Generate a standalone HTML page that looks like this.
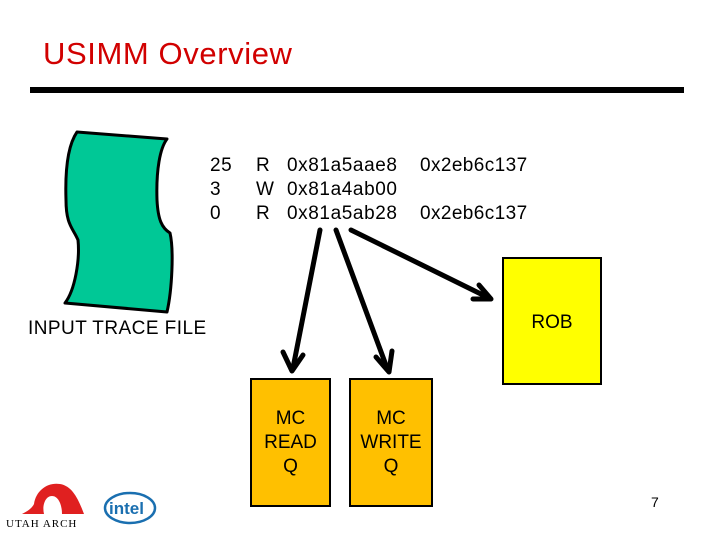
<!DOCTYPE html>
<html><head><meta charset="utf-8"><style>
body{margin:0;width:720px;height:540px;background:#fff;position:relative;overflow:hidden;font-family:"Liberation Sans",Arial,sans-serif}
.t{position:absolute;white-space:nowrap;color:#000}
.box{position:absolute;border:2px solid #000;box-sizing:border-box;display:flex;align-items:center;justify-content:center;text-align:center;font-size:19px;line-height:24px}
</style></head><body>
<div class="t" style="left:43px;top:36px;font-size:31px;letter-spacing:0.6px;color:#d10000">USIMM Overview</div>
<div style="position:absolute;left:30px;top:87px;width:654px;height:6px;background:#000"></div>
<svg width="720" height="540" style="position:absolute;left:0;top:0">
<path d="M77,132 L167,139 C160,148 156,170 157,200 C158,220 162,228 170,233 C174,250 172,290 167,312 L65,303 C75,290 80,260 78,240 C73,228 66,225 66,200 C65,170 68,145 77,132 Z" fill="#00c896" stroke="#000" stroke-width="3" stroke-linejoin="round"/>
<g stroke="#000" stroke-width="5" fill="none" stroke-linecap="round" stroke-linejoin="round">
<line x1="320" y1="230" x2="293" y2="368"/>
<polyline points="283,352 292,371 303,355"/>
<line x1="336" y1="230" x2="387" y2="368"/>
<polyline points="376,357 389,372 392,351"/>
<line x1="351" y1="230" x2="489" y2="298"/>
<polyline points="479,285 491,299 473,299"/>
</g>
</svg>
<div class="t" style="left:210px;top:154px;font-size:19px;line-height:24px;letter-spacing:0.5px">25<br>3<br>0</div>
<div class="t" style="left:256px;top:154px;font-size:19px;line-height:24px">R<br>W<br>R</div>
<div class="t" style="left:287px;top:154px;font-size:19px;line-height:24px;letter-spacing:0.6px">0x81a5aae8<br>0x81a4ab00<br>0x81a5ab28</div>
<div class="t" style="left:420px;top:154px;font-size:19px;line-height:24px;letter-spacing:0.4px">0x2eb6c137<br><br>0x2eb6c137</div>
<div class="t" style="left:28px;top:318px;font-size:19px;letter-spacing:0.45px">INPUT TRACE FILE</div>
<div class="box" style="left:502px;top:257px;width:100px;height:128px;background:#ffff00;align-items:flex-start;padding-top:52px">ROB</div>
<div class="box" style="left:250px;top:378px;width:81px;height:129px;background:#ffc000">MC<br>READ<br>Q</div>
<div class="box" style="left:349px;top:378px;width:84px;height:129px;background:#ffc000">MC<br>WRITE<br>Q</div>
<svg width="180" height="60" style="position:absolute;left:0;top:478px">
<path d="M34,26 C36,12 48,4 60,6 C72,8 78,20 84,36 L62,36 C62,26 58,18 52,18 C45,18 42,28 44,36 L22,36 C28,33 32,30 34,26 Z" fill="#e02020"/>
<text x="6" y="49" font-family="Liberation Serif,serif" font-size="11" letter-spacing="1">UTAH ARCH</text>
<ellipse cx="130" cy="30" rx="25" ry="15" fill="none" stroke="#1a6fb0" stroke-width="2.5"/>
<text x="109" y="36" font-family="Liberation Sans,sans-serif" font-size="17" font-weight="bold" fill="#1a6fb0">intel</text>
</svg>
<div class="t" style="left:651px;top:494px;font-size:14px">7</div>
</body></html>
